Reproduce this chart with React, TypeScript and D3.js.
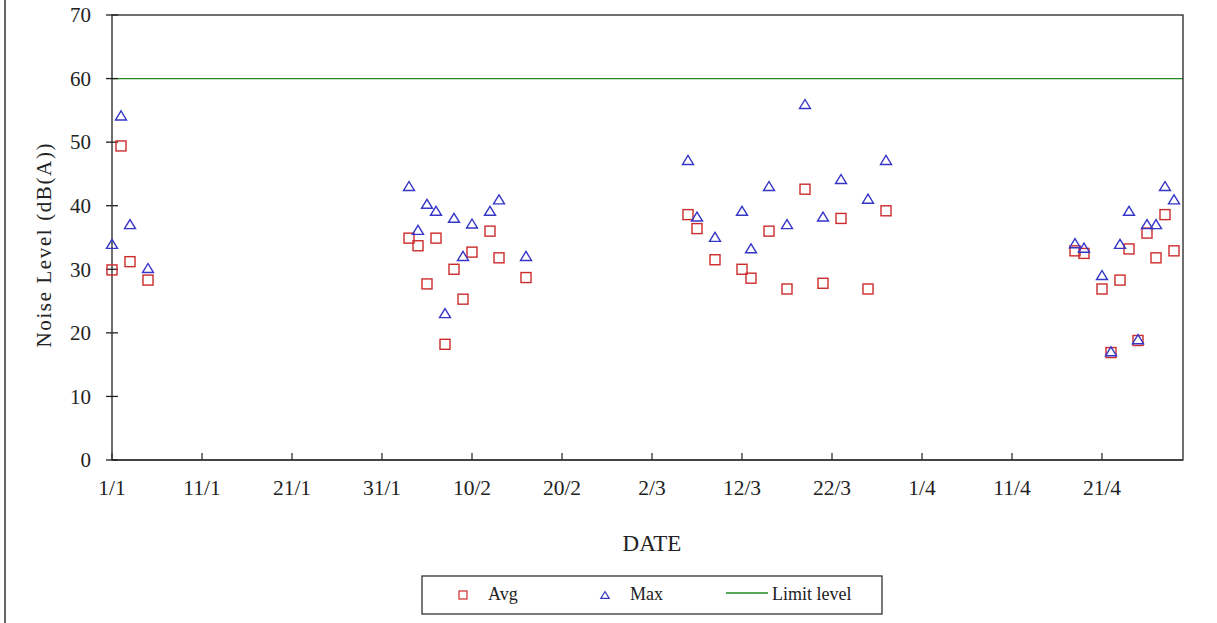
import React from "react";
import * as d3 from "d3";

const YEAR = "2009";
const tickLabels = ["1/1", "11/1", "21/1", "31/1", "10/2", "20/2", "2/3", "12/3", "22/3", "1/4", "11/4", "21/4"];
const yTicks = [0, 10, 20, 30, 40, 50, 60, 70];
const domainStart = "1/1";
const domainEnd = "30/4";
const limitLevel = 60;

const dates = [
  "1/1", "2/1", "3/1", "5/1",
  "3/2", "4/2", "5/2", "6/2", "7/2", "8/2", "9/2", "10/2", "12/2", "13/2", "16/2",
  "6/3", "7/3", "9/3", "12/3", "13/3", "15/3", "17/3", "19/3", "21/3", "23/3", "26/3", "28/3",
  "18/4", "19/4", "21/4", "22/4", "23/4", "24/4", "25/4", "26/4", "27/4", "28/4", "29/4",
];
const avgValues = [
  29.9, 49.4, 31.2, 28.3,
  34.9, 33.7, 27.7, 34.9, 18.2, 30.0, 25.3, 32.7, 36.0, 31.8, 28.7,
  38.6, 36.4, 31.5, 30.0, 28.6, 36.0, 26.9, 42.6, 27.8, 38.0, 26.9, 39.2,
  32.9, 32.5, 26.9, 16.9, 28.3, 33.2, 18.8, 35.7, 31.8, 38.6, 32.9,
];
const maxValues = [
  34.0, 54.2, 37.1, 30.2,
  43.1, 36.2, 40.3, 39.2, 23.1, 38.1, 32.1, 37.2, 39.2, 41.0, 32.1,
  47.2, 38.3, 35.1, 39.2, 33.3, 43.1, 37.1, 56.0, 38.3, 44.2, 41.1, 47.2,
  34.1, 33.4, 29.1, 17.1, 34.0, 39.2, 19.0, 37.1, 37.1, 43.1, 41.0,
];

const parse = d3.timeParse("%d/%m/%Y");
const toDate = (s: string) => parse(s + "/" + YEAR) as Date;

const W = 1217;
const H = 623;
const M = { left: 112, right: 1183, top: 15, bottom: 460 };

const RED = "#cc2b2b";
const BLUE = "#3535c8";
const GREEN = "#1f8a1f";
const FONT = "'Liberation Serif', 'Times New Roman', serif";

const triPath = (s: number) => `M0,${-s * 0.82} L${s},${s * 0.82} L${-s},${s * 0.82} Z`;

export default function App() {
  const x = d3.scaleTime().domain([toDate(domainStart), toDate(domainEnd)]).range([M.left, M.right]);
  const y = d3.scaleLinear().domain([0, 70]).range([M.bottom, M.top]);

  const avgPts = dates.map((d, i) => ({ x: x(toDate(d)), y: y(avgValues[i]) }));
  const maxPts = dates.map((d, i) => ({ x: x(toDate(d)), y: y(maxValues[i]) }));

  return (
    <svg width={W} height={H} style={{ position: "absolute", left: 0, top: 0, background: "#fff" }} fontFamily={FONT}>
      <rect x={0} y={0} width={W} height={H} fill="#fff" />
      {/* outer chart border (left edge visible) */}
      <line x1={5} x2={5} y1={0} y2={H} stroke="#666" strokeWidth={2} />

      {/* limit line */}
      <line x1={M.left} x2={M.right} y1={y(limitLevel)} y2={y(limitLevel)} stroke={GREEN} strokeWidth={1.3} />

      {/* plot frame */}
      <rect x={M.left} y={M.top} width={M.right - M.left} height={M.bottom - M.top} fill="none" stroke="#222" strokeWidth={1.3} />
      <line x1={M.left} x2={M.right} y1={M.bottom} y2={M.bottom} stroke="#444" strokeWidth={2} />

      {/* y ticks */}
      {yTicks.map((t) => (
        <g key={t}>
          <line x1={M.left - 6} x2={M.left + 6} y1={y(t)} y2={y(t)} stroke="#222" strokeWidth={1.3} />
          <text x={91} y={y(t)} dy="0.35em" textAnchor="end" fontSize={21} fill="#222">{t}</text>
        </g>
      ))}

      {/* x ticks */}
      {tickLabels.map((t) => {
        const xp = x(toDate(t));
        return (
          <g key={t}>
            <line x1={xp} x2={xp} y1={M.bottom} y2={M.bottom - 7} stroke="#333" strokeWidth={1.3} />
            <text x={xp} y={495} textAnchor="middle" fontSize={21.5} fill="#222">{t}</text>
          </g>
        );
      })}

      {/* axis titles */}
      <text x={652} y={551} textAnchor="middle" fontSize={23} fill="#222">DATE</text>
      <text
        transform={`translate(51,${(M.top + M.bottom) / 2 + 8}) rotate(-90)`}
        textAnchor="middle"
        fontSize={21}
        fill="#222"
        textLength={204}
        lengthAdjust="spacing"
      >
        Noise Level (dB(A))
      </text>

      {/* data: Avg squares */}
      {avgPts.map((p, i) => (
        <rect key={"a" + i} x={p.x - 5} y={p.y - 5} width={10} height={10} fill="none" stroke={RED} strokeWidth={1.4} />
      ))}
      {/* data: Max triangles */}
      {maxPts.map((p, i) => (
        <path key={"m" + i} d={triPath(5.5)} transform={`translate(${p.x},${p.y})`} fill="none" stroke={BLUE} strokeWidth={1.4} />
      ))}

      {/* legend */}
      <rect x={422} y={576} width={460} height={38} fill="#fff" stroke="#333" strokeWidth={1.3} />
      <rect x={459} y={591} width={8} height={8} fill="none" stroke={RED} strokeWidth={1.2} />
      <text x={488} y={600} fontSize={18} fill="#222">Avg</text>
      <path d={triPath(4.2)} transform="translate(605,595)" fill="none" stroke={BLUE} strokeWidth={1.2} />
      <text x={630} y={600} fontSize={18} fill="#222">Max</text>
      <line x1={726} x2={768} y1={593} y2={593} stroke={GREEN} strokeWidth={1.3} />
      <text x={772} y={600} fontSize={18} fill="#222">Limit level</text>
    </svg>
  );
}
